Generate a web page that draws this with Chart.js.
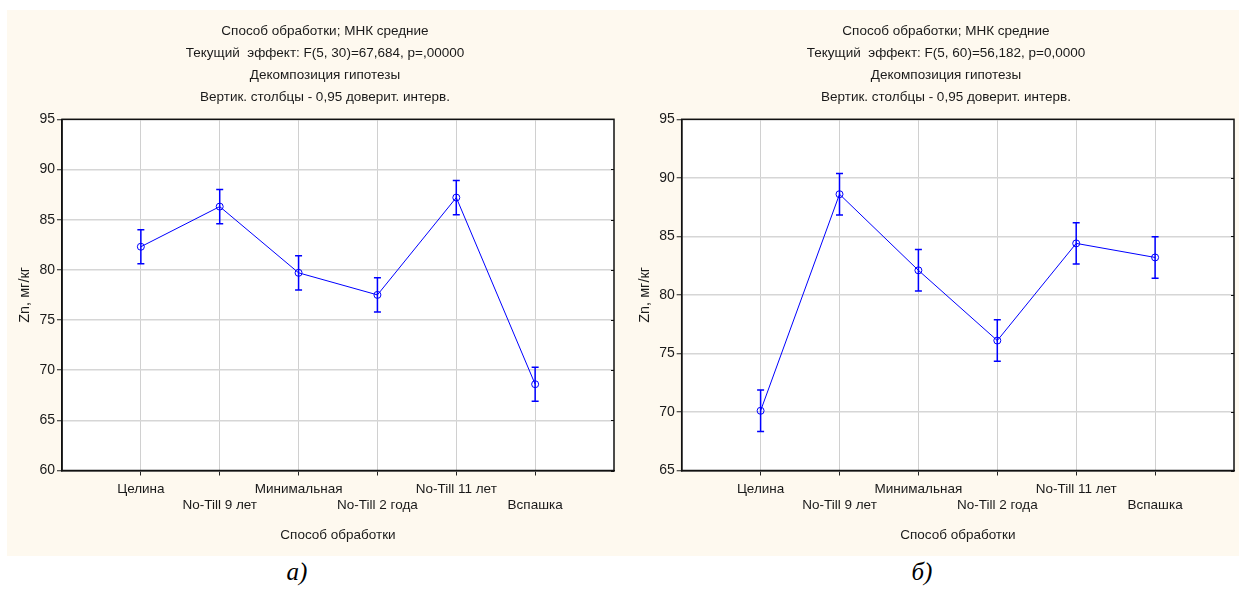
<!DOCTYPE html>
<html lang="ru">
<head>
<meta charset="utf-8">
<title>Zn, мг/кг — способ обработки</title>
<script src="https://cdn.jsdelivr.net/npm/chart.js@4.4.1/dist/chart.umd.min.js"></script>
<style>
    html, body { margin: 0; padding: 0; background: #ffffff; }
    body { position: relative; width: 1239px; height: 589px; overflow: hidden; }
    .panel { position: absolute; top: 10px; height: 546px; background: #fef9ef; }
    #panelA { left: 7px; width: 618px; }
    #panelB { left: 625px; width: 614px; }
    .panel canvas { position: absolute; left: 0; top: 0; }
    .caption {
        position: absolute; top: 558px; width: 60px; line-height: 30px; text-align: center;
        font: italic 25px 'Liberation Serif', 'Times New Roman', serif; color: #000;
    }
</style>
</head>
<body>
<div class="panel" id="panelA"><canvas id="chartA" width="618" height="546"></canvas></div>
<div class="panel" id="panelB"><canvas id="chartB" width="614" height="546"></canvas></div>
<div class="caption" style="left: 267px;">а)</div>
<div class="caption" style="left: 892px;">б)</div>

<script>
/* ============================================================
   Zn content by tillage method — LS means with 0.95 CI
   Two Statistica-style panels drawn with Chart.js
   ============================================================ */

// ---- data ----
const categories = ['Целина', 'No-Till 9 лет', 'Минимальная', 'No-Till 2 года', 'No-Till 11 лет', 'Вспашка'];

const meansA = [82.3, 86.3, 79.7, 77.5, 87.2, 68.6];
const ciA = [1.7, 1.7, 1.7, 1.7, 1.7, 1.7];
const yTicksA = [60, 65, 70, 75, 80, 85, 90, 95];
const titleA = [
    'Способ обработки; МНК средние',
    'Текущий  эффект: F(5, 30)=67,684, p=,00000',
    'Декомпозиция гипотезы',
    'Вертик. столбцы - 0,95 доверит. интерв.'
];

const meansB = [70.1, 88.6, 82.1, 76.1, 84.4, 83.2];
const ciB = [1.77, 1.77, 1.77, 1.77, 1.77, 1.77];
const yTicksB = [65, 70, 75, 80, 85, 90, 95];
const titleB = [
    'Способ обработки; МНК средние',
    'Текущий  эффект: F(5, 60)=56,182, p=0,0000',
    'Декомпозиция гипотезы',
    'Вертик. столбцы - 0,95 доверит. интерв.'
];

const yTitle = 'Zn, мг/кг';
const xTitle = 'Способ обработки';

// ---- look ----
const FONT = "'Liberation Sans', Arial, sans-serif";
const TEXT = '#1a1a1a';
const BLUE = '#0000ff';

Chart.defaults.font.family = FONT;
Chart.defaults.color = TEXT;

/**
 * White plot area, full black frame and inward ticks on the right edge
 */
const plotFrame = {
    id: 'plotFrame',
    beforeDraw(chart) {
        const { ctx, chartArea: a } = chart;
        ctx.save();
        ctx.fillStyle = '#ffffff';
        ctx.fillRect(a.left, a.top, a.width, a.height);
        ctx.restore();
    },
    afterDraw(chart) {
        const { ctx, chartArea: a } = chart;
        const y = chart.scales.y;
        ctx.save();
        ctx.strokeStyle = '#111';
        ctx.lineWidth = 1.5;
        ctx.strokeRect(a.left, a.top, a.width, a.height);
        ctx.lineWidth = 1;
        ctx.beginPath();
        y.ticks.forEach(t => {
            const py = Math.round(y.getPixelForValue(t.value)) + 0.5;
            ctx.moveTo(a.right - 3, py);
            ctx.lineTo(a.right, py);
        });
        ctx.stroke();
        ctx.restore();
    }
};

/**
 * Vertical confidence bars with caps, taken from dataset.ci
 */
const errorBars = {
    id: 'errorBars',
    afterDatasetsDraw(chart) {
        const { ctx } = chart;
        const xs = chart.scales.x, ys = chart.scales.y;
        chart.data.datasets.forEach(ds => {
            if (!ds.ci) return;
            ctx.save();
            ctx.strokeStyle = BLUE;
            ctx.lineWidth = 1.5;
            ds.data.forEach((p, i) => {
                const px = xs.getPixelForValue(p.x);
                const top = ys.getPixelForValue(p.y + ds.ci[i]);
                const bot = ys.getPixelForValue(p.y - ds.ci[i]);
                ctx.beginPath();
                ctx.moveTo(px, top); ctx.lineTo(px, bot);
                ctx.moveTo(px - 3.5, top); ctx.lineTo(px + 3.5, top);
                ctx.moveTo(px - 3.5, bot); ctx.lineTo(px + 3.5, bot);
                ctx.stroke();
            });
            ctx.restore();
        });
    }
};

/**
 * Build one panel
 * @param {string} canvasId
 * @param {object} cfg - means, ci, yTicks, title, padLeft, padRight, yWidth
 */
function createPanel(canvasId, cfg) {
    const ctx = document.getElementById(canvasId).getContext('2d');
    const points = categories.map((c, i) => ({ x: i + 1, y: cfg.means[i] }));

    return new Chart(ctx, {
        type: 'line',
        data: {
            datasets: [{
                data: points,
                ci: cfg.ci,
                borderColor: BLUE,
                borderWidth: 1,
                pointRadius: 3.5,
                pointBorderWidth: 1,
                pointBorderColor: BLUE,
                pointBackgroundColor: 'rgba(0,0,0,0)',
                tension: 0
            }]
        },
        options: {
            responsive: false,
            animation: false,
            events: [],
            layout: { padding: { left: cfg.padLeft, right: cfg.padRight, top: 0, bottom: 0 } },
            plugins: {
                legend: { display: false },
                tooltip: { enabled: false },
                title: {
                    display: true,
                    text: cfg.title,
                    color: TEXT,
                    font: { size: 13.5, weight: 'normal', lineHeight: '22px' },
                    padding: { top: 10, bottom: 11.3 }
                }
            },
            scales: {
                x: {
                    type: 'linear',
                    min: 0,
                    max: categories.length + 1,
                    afterBuildTicks: s => { s.ticks = categories.map((c, i) => ({ value: i + 1 })); },
                    afterFit: s => { s.height = 85.5; },
                    grid: { color: '#d0d0d0', lineWidth: 1, tickColor: '#222', tickLength: 5, tickWidth: 1 },
                    border: { color: '#111', width: 1.5 },
                    ticks: {
                        autoSkip: false,
                        maxRotation: 0,
                        minRotation: 0,
                        padding: 6,
                        color: TEXT,
                        font: { size: 13.5, lineHeight: '16px' },
                        callback: v => {
                            const i = v - 1;
                            return i % 2 === 0 ? [categories[i], ''] : ['', categories[i]];
                        }
                    },
                    title: {
                        display: true,
                        text: xTitle,
                        color: TEXT,
                        font: { size: 13.5, lineHeight: '16px' },
                        padding: { top: 0, bottom: 13 }
                    }
                },
                y: {
                    min: cfg.yTicks[0],
                    max: cfg.yTicks[cfg.yTicks.length - 1],
                    afterBuildTicks: s => { s.ticks = cfg.yTicks.map(v => ({ value: v })); },
                    afterFit: s => { s.width = cfg.yWidth; },
                    grid: { color: '#d6d6d6', lineWidth: 1.5, tickColor: '#222', tickLength: 5, tickWidth: 1 },
                    border: { color: '#111', width: 1.5 },
                    ticks: { padding: 2, color: TEXT, font: { size: 14 } },
                    title: {
                        display: true,
                        text: yTitle,
                        color: TEXT,
                        font: { size: 14.5, lineHeight: '16px' },
                        padding: { top: -19, bottom: 0 }
                    }
                }
            }
        },
        plugins: [plotFrame, errorBars]
    });
}

createPanel('chartA', { means: meansA, ci: ciA, yTicks: yTicksA, title: titleA, padLeft: 29, padRight: 11, yWidth: 26 });
createPanel('chartB', { means: meansB, ci: ciB, yTicks: yTicksB, title: titleB, padLeft: 31, padRight: 3, yWidth: 25.7 });
</script>
</body>
</html>
